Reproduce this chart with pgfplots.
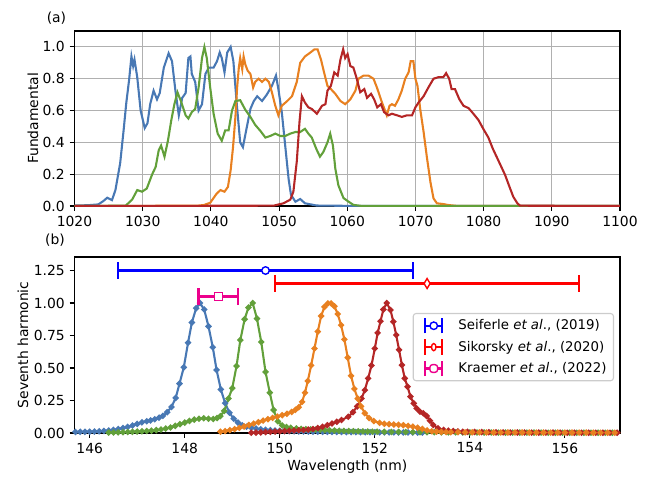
\documentclass[border=0pt]{standalone}
\usepackage{pgfplots}
\pgfplotsset{compat=1.18}
\usepackage{fontspec}
\setmainfont{DejaVu Sans}
\definecolor{cB}{RGB}{72,120,180}
\definecolor{cO}{RGB}{232,128,32}
\definecolor{cG}{RGB}{98,160,58}
\definecolor{cR}{RGB}{180,38,38}
\definecolor{gridc}{RGB}{176,176,176}
\definecolor{legc}{RGB}{204,204,204}
\pgfplotsset{
  myaxis/.style={
    scale only axis, width=392.76pt,
    axis line style={line width=0.8pt, black},
    tick align=outside, tick pos=left,
    major tick length=3.5pt,
    every tick/.style={line width=0.8pt, black},
    /pgf/number format/assume math mode=true,
    /pgf/number format/1000 sep={},
    tick label style={font=\fontsize{10}{12}\selectfont},
    label style={font=\fontsize{10}{12}\selectfont},
    clip=true,
  },
  topline/.style={line width=1.5pt, no marks},
  botline/.style={line width=1.5pt, mark=*, mark size=1.4pt},
  ebar/.style={line width=1.5pt, mark=|, mark size=6pt, mark options={line width=1.5pt}},
}
\begin{document}
\begin{tikzpicture}
\useasboundingbox (0,0) rectangle (468.72pt,343.44pt);
% ---------------- (a) ----------------
\begin{axis}[myaxis, name=topax,
  at={(53.64pt,195.12pt)}, anchor=south west, height=126pt,
  xmin=1020, xmax=1100, ymin=0, ymax=1.1,
  xtick={1020,1030,...,1100},
  ytick={0,0.2,0.4,0.6,0.8,1.0},
  yticklabel style={/pgf/number format/.cd, fixed, fixed zerofill, precision=1},
  grid=major, major grid style={line width=0.8pt, gridc},
  ylabel={Fundamental},
  ylabel style={at={(axis description cs:-0.076,0.5)}, anchor=center},
]
\addplot[topline, cB] coordinates {
(1020,0.003) (1022,0.005) (1023.5,0.010) (1024.2,0.030) (1024.8,0.052) (1025.5,0.037)
(1026.0,0.10) (1026.7,0.27) (1027.2,0.475) (1027.6,0.65) (1028.0,0.79) (1028.35,0.94)
(1028.6,0.88) (1028.8,0.92) (1029.2,0.81) (1029.7,0.60) (1030.3,0.49) (1030.7,0.52)
(1031.1,0.64) (1031.6,0.725) (1032.1,0.67) (1032.5,0.71) (1033.1,0.87) (1033.8,0.96)
(1034.3,0.91) (1034.8,0.725) (1035.3,0.57) (1035.8,0.68) (1036.3,0.71) (1036.7,0.93)
(1037.0,0.94) (1037.2,0.83) (1037.7,0.78) (1038.2,0.60) (1038.7,0.64) (1039.2,0.83)
(1039.7,0.87) (1040.4,0.87) (1040.9,0.91) (1041.3,0.965) (1041.6,0.93) (1042.0,0.84)
(1042.4,0.965) (1042.9,1.0) (1043.3,0.91) (1043.8,0.64) (1044.3,0.40) (1044.7,0.37)
(1045.2,0.48) (1045.8,0.61) (1046.3,0.66) (1046.8,0.69) (1047.5,0.66) (1048.2,0.70)
(1048.95,0.755) (1049.55,0.82) (1049.9,0.735) (1050.4,0.59) (1050.9,0.38) (1051.4,0.17)
(1051.75,0.07) (1052.4,0.027) (1053.1,0.044) (1053.8,0.017) (1055.5,0.003) (1060,0.001) (1100,0)
};
\addplot[topline, cO] coordinates {
(1020,0) (1038.0,0.002) (1038.95,0.006) (1039.9,0.02) (1040.8,0.075) (1041.4,0.10)
(1042.0,0.09) (1042.5,0.12) (1042.9,0.225) (1043.25,0.37) (1043.6,0.56) (1043.85,0.745)
(1044.1,0.87) (1044.3,0.93) (1044.6,0.86) (1044.8,0.94) (1045.05,0.89) (1045.4,0.85)
(1045.8,0.83) (1046.2,0.745) (1046.5,0.78) (1047.0,0.80) (1047.5,0.78) (1048.0,0.80)
(1048.5,0.78) (1048.95,0.715) (1049.45,0.63) (1049.9,0.57) (1050.4,0.63) (1051.2,0.66)
(1051.9,0.69) (1052.6,0.78) (1053.1,0.90) (1053.8,0.94) (1054.6,0.965) (1055.2,0.985)
(1055.65,0.985) (1056.15,0.92) (1056.6,0.84) (1057.1,0.755) (1057.6,0.735) (1058.25,0.705)
(1059.0,0.66) (1059.7,0.64) (1060.45,0.67) (1061.2,0.725) (1061.65,0.80) (1062.4,0.82)
(1063.1,0.82) (1063.85,0.80) (1064.35,0.745) (1065.1,0.65) (1065.8,0.57) (1066.2,0.63)
(1066.55,0.64) (1067.0,0.63) (1067.5,0.67) (1068.0,0.725) (1068.5,0.80) (1069.0,0.84)
(1069.3,0.91) (1069.7,0.91) (1070.0,0.80) (1070.3,0.755) (1070.7,0.61) (1071.2,0.465)
(1071.7,0.30) (1072.2,0.15) (1072.65,0.048) (1073.15,0.017) (1074.1,0.012) (1074.85,0.006)
(1076,0.001) (1100,0)
};
\addplot[topline, cG] coordinates {
(1020,0) (1027.5,0.002) (1028.45,0.04) (1029.2,0.10) (1029.9,0.09) (1030.6,0.11)
(1031.4,0.20) (1031.9,0.245) (1032.35,0.35) (1032.7,0.38) (1033.2,0.31) (1033.7,0.41)
(1034.2,0.54) (1034.65,0.64) (1035.1,0.715) (1035.6,0.66) (1036.3,0.57) (1036.7,0.55)
(1037.2,0.59) (1037.7,0.61) (1038.2,0.745) (1038.7,0.93) (1039.05,1.0) (1039.4,0.93)
(1039.9,0.745) (1040.4,0.58) (1041.0,0.455) (1041.6,0.41) (1042.1,0.475) (1042.6,0.475)
(1043.1,0.60) (1043.6,0.66) (1044.3,0.665) (1045.05,0.605) (1045.8,0.56) (1046.5,0.51)
(1047.3,0.47) (1048.0,0.43) (1048.7,0.44) (1049.45,0.455) (1050.2,0.44) (1050.9,0.44)
(1051.65,0.455) (1052.4,0.465) (1053.1,0.465) (1053.8,0.485) (1054.3,0.455) (1054.8,0.43)
(1055.45,0.36) (1056.0,0.31) (1056.5,0.34) (1057.1,0.40) (1057.5,0.455) (1057.9,0.38)
(1058.25,0.235) (1058.7,0.13) (1059.45,0.05) (1060.2,0.027) (1060.9,0.007) (1062,0.001) (1100,0)
};
\addplot[topline, cR] coordinates {
(1020,0) (1049.2,0.002) (1050.65,0.017) (1051.65,0.04) (1052.1,0.09) (1052.6,0.28)
(1053.0,0.53) (1053.35,0.69) (1053.8,0.65) (1054.3,0.62) (1054.8,0.61) (1055.55,0.58)
(1056.3,0.63) (1056.8,0.64) (1057.1,0.725) (1057.6,0.755) (1058.1,0.84) (1058.6,0.82)
(1059.0,0.92) (1059.4,0.985) (1059.7,0.93) (1060.05,0.955) (1060.45,0.88) (1060.9,0.87)
(1061.4,0.80) (1061.9,0.715) (1062.5,0.735) (1062.9,0.68) (1063.5,0.705) (1063.95,0.67)
(1064.4,0.62) (1064.95,0.64) (1065.4,0.59) (1066.05,0.57) (1066.55,0.58) (1067.3,0.57)
(1068.0,0.56) (1068.75,0.57) (1069.5,0.57) (1070.0,0.62) (1070.45,0.65) (1071.2,0.69)
(1071.9,0.745) (1072.65,0.80) (1073.4,0.81) (1074.1,0.81) (1074.5,0.835) (1074.95,0.80)
(1075.3,0.735) (1075.8,0.735) (1076.45,0.67) (1077.05,0.63) (1077.8,0.615) (1078.5,0.58)
(1079.25,0.54) (1079.95,0.485) (1080.7,0.43) (1081.35,0.36) (1081.9,0.31) (1082.5,0.255)
(1083.15,0.195) (1083.8,0.12) (1084.35,0.058) (1084.95,0.017) (1085.35,0.002) (1100,0)
};
\end{axis}
\node[font=\fontsize{10}{12}\selectfont] at ([xshift=-13pt,yshift=9pt]topax.north west) {(a)};
% ---------------- (b) ----------------
\begin{axis}[myaxis, name=botax,
  at={(53.64pt,31.68pt)}, anchor=south west, height=126.72pt,
  xmin=145.68, xmax=157.16, ymin=0, ymax=1.354,
  xtick={146,148,...,156},
  ytick={0,0.25,0.5,0.75,1.0,1.25},
  yticklabel style={/pgf/number format/.cd, fixed, fixed zerofill, precision=2},
  ylabel={Seventh harmonic},
  ylabel style={at={(axis description cs:-0.0944,0.5)}, anchor=center},
  xlabel={Wavelength (nm)},
  xlabel style={at={(axis description cs:0.5,-0.19)}, anchor=center},
  legend style={at={(0.62,0.682)}, anchor=north west, draw=legc, line width=0.8pt,
    rounded corners=2pt, fill=white, font=\fontsize{9.6}{11.5}\selectfont,
    inner xsep=3pt, inner ysep=2.4pt, row sep=2.6pt,
    nodes={inner sep=2pt}, cells={anchor=west}},
]
\addplot[botline, cB, forget plot] coordinates {
(145.70,0.008) (145.80,0.009) (145.90,0.009) (146.00,0.010) (146.10,0.011) (146.20,0.013)
(146.30,0.016) (146.40,0.019) (146.50,0.024) (146.60,0.030) (146.70,0.038) (146.80,0.047)
(146.90,0.058) (147.00,0.070) (147.10,0.082) (147.20,0.090)
(147.28,0.097) (147.37,0.106) (147.46,0.118) (147.54,0.132) (147.63,0.160) (147.72,0.200)
(147.81,0.270) (147.89,0.380) (147.98,0.505) (148.07,0.695) (148.15,0.850) (148.24,0.960)
(148.32,1.000) (148.41,0.950) (148.50,0.820) (148.59,0.660) (148.67,0.485) (148.76,0.335)
(148.85,0.230) (148.94,0.156) (149.03,0.110) (149.12,0.080) (149.21,0.060) (149.30,0.048)
(149.40,0.040) (149.50,0.034) (149.60,0.029) (149.70,0.025) (149.80,0.022) (149.90,0.019)
(150.00,0.017) (150.10,0.016) (150.20,0.014) (150.30,0.013) (150.40,0.012) (150.50,0.012)
(150.60,0.011) (150.70,0.010) (150.80,0.010) (150.90,0.009) (151.00,0.009) (151.10,0.008)
(151.20,0.008) (151.30,0.008) (151.40,0.007) (151.50,0.007) (151.60,0.007) (151.70,0.006)
(151.80,0.006) (151.90,0.006) (152.00,0.006) (152.10,0.005) (152.20,0.005) (152.30,0.005)
(152.40,0.005) (152.50,0.004) (152.60,0.004) (152.70,0.004) (152.80,0.004) (152.90,0.003)
(153.00,0.003)
};
\addplot[botline, cG, forget plot] coordinates {
(146.40,0.003) (146.50,0.004) (146.60,0.005) (146.70,0.006) (146.80,0.008) (146.90,0.009)
(147.00,0.011) (147.10,0.013) (147.20,0.015) (147.30,0.018) (147.40,0.022) (147.50,0.027)
(147.60,0.034) (147.70,0.042) (147.80,0.055) (147.90,0.068) (148.00,0.080) (148.10,0.093)
(148.20,0.103) (148.30,0.110) (148.40,0.113) (148.50,0.110) (148.60,0.108) (148.68,0.115)
(148.75,0.130) (148.83,0.170) (148.92,0.265) (149.00,0.345) (149.09,0.515) (149.17,0.715)
(149.26,0.875) (149.34,0.965) (149.43,1.000) (149.52,0.880) (149.61,0.700) (149.70,0.470)
(149.79,0.310) (149.87,0.177) (149.96,0.090) (150.05,0.058) (150.14,0.046) (150.23,0.040)
(150.35,0.035) (150.45,0.032) (150.55,0.030) (150.65,0.028) (150.75,0.026) (150.85,0.024)
(150.95,0.022) (151.05,0.020) (151.15,0.019) (151.25,0.017) (151.35,0.016) (151.45,0.015)
(151.55,0.014) (151.65,0.013) (151.75,0.012) (151.85,0.011) (151.95,0.010) (152.05,0.010)
(152.20,0.009) (152.35,0.008) (152.50,0.008) (152.65,0.007) (152.80,0.007) (152.95,0.006)
(153.10,0.006) (153.25,0.006) (153.40,0.005) (153.55,0.005) (153.70,0.005) (153.85,0.004)
(154.00,0.004) (154.15,0.004) (154.30,0.004) (154.45,0.004) (154.60,0.003) (154.75,0.003)
(154.90,0.003) (155.05,0.003) (155.20,0.003) (155.35,0.003) (155.50,0.003) (155.65,0.002)
(155.80,0.002) (155.95,0.002) (156.10,0.002) (156.25,0.002) (156.40,0.002) (156.55,0.002)
(156.70,0.002) (156.85,0.002) (157.00,0.002)
};
\addplot[botline, cR, forget plot] coordinates {
(149.40,0.002) (149.50,0.003) (149.60,0.005) (149.70,0.007) (149.80,0.009) (149.90,0.011)
(150.00,0.013) (150.10,0.015) (150.20,0.017) (150.30,0.019) (150.40,0.021) (150.50,0.023)
(150.60,0.026) (150.70,0.031) (150.80,0.038) (150.90,0.048) (151.00,0.060) (151.10,0.073)
(151.20,0.086) (151.30,0.100) (151.44,0.125)
(151.54,0.160) (151.63,0.205) (151.72,0.265) (151.79,0.330) (151.86,0.420) (151.93,0.520)
(152.00,0.650) (152.06,0.770) (152.12,0.860) (152.18,0.950) (152.25,1.000) (152.33,0.946)
(152.39,0.856) (152.45,0.754) (152.51,0.640) (152.57,0.523) (152.63,0.420) (152.69,0.356)
(152.75,0.280) (152.82,0.228) (152.88,0.190) (152.95,0.164) (153.02,0.152) (153.09,0.131)
(153.16,0.095) (153.23,0.062) (153.33,0.036) (153.45,0.024) (153.55,0.018) (153.65,0.015)
(153.75,0.012) (153.85,0.010) (153.95,0.009) (154.10,0.008) (154.25,0.007) (154.40,0.006)
(154.55,0.005) (154.70,0.005) (154.85,0.004) (155.00,0.004) (155.15,0.004) (155.30,0.003)
(155.45,0.003) (155.60,0.003) (155.75,0.003) (155.90,0.003) (156.05,0.002) (156.20,0.002)
(156.35,0.002) (156.50,0.002) (156.65,0.002) (156.80,0.002) (156.95,0.002) (157.10,0.002)
};
\addplot[botline, cO, forget plot] coordinates {
(148.75,0.010) (148.85,0.015) (148.95,0.022) (149.05,0.030) (149.15,0.040) (149.25,0.050)
(149.35,0.062) (149.45,0.072) (149.55,0.083) (149.65,0.095) (149.75,0.106) (149.85,0.116)
(149.95,0.126) (150.05,0.137) (150.15,0.148) (150.25,0.162) (150.33,0.178) (150.40,0.198)
(150.47,0.240) (150.53,0.310) (150.59,0.400) (150.66,0.520) (150.73,0.650)
(150.80,0.780) (150.87,0.900) (150.94,0.970) (151.01,0.997) (151.08,0.997) (151.15,0.975)
(151.22,0.915) (151.29,0.830) (151.36,0.720) (151.43,0.580) (151.50,0.440) (151.57,0.340)
(151.64,0.265) (151.71,0.205) (151.79,0.152) (151.88,0.115) (151.98,0.092) (152.10,0.078)
(152.20,0.071) (152.30,0.068) (152.40,0.065) (152.50,0.063) (152.60,0.060) (152.70,0.055)
(152.80,0.049) (152.90,0.041) (153.00,0.032) (153.10,0.020) (153.20,0.013) (153.30,0.010)
(153.40,0.008) (153.50,0.007) (153.60,0.006) (153.75,0.006) (153.90,0.005) (154.05,0.005)
(154.20,0.005) (154.35,0.004) (154.50,0.004) (154.65,0.004) (154.80,0.004) (154.95,0.004)
(155.10,0.004) (155.25,0.003) (155.40,0.003) (155.55,0.003) (155.70,0.003) (155.85,0.003)
(156.00,0.003) (156.15,0.003) (156.30,0.003) (156.45,0.003) (156.60,0.002) (156.75,0.002)
(156.90,0.002) (157.05,0.002) (157.20,0.002)
};
% error bars (range lines with caps at the ends)
\addplot[ebar, blue,
  legend image code/.code={
    \draw[blue, line width=1.5pt] (5pt,0)--(17pt,0);
    \draw[blue, line width=1.5pt] (5pt,-5.5pt)--(5pt,5.5pt);
    \draw[blue, line width=1.5pt] (17pt,-5.5pt)--(17pt,5.5pt);
    \draw[blue, line width=1pt, fill=white] (11pt,0) circle (2.7pt);
    \path (0,0) (26pt,0);}
] coordinates {(146.59,1.25) (152.81,1.25)};
\addlegendentry{Seiferle \textit{et al}., (2019)}
\addplot[ebar, red,
  legend image code/.code={
    \draw[red, line width=1.5pt] (5pt,0)--(17pt,0);
    \draw[red, line width=1.5pt] (5pt,-5.5pt)--(5pt,5.5pt);
    \draw[red, line width=1.5pt] (17pt,-5.5pt)--(17pt,5.5pt);
    \draw[red, line width=1pt, fill=white] (11pt,3.6pt)--(13.2pt,0)--(11pt,-3.6pt)--(8.8pt,0)--cycle;
    \path (0,0) (26pt,0);}
] coordinates {(149.90,1.15) (156.30,1.15)};
\addlegendentry{Sikorsky \textit{et al}., (2020)}
\addplot[ebar, magenta,
  legend image code/.code={
    \draw[magenta, line width=1.5pt] (5pt,0)--(17pt,0);
    \draw[magenta, line width=1.5pt] (5pt,-5.5pt)--(5pt,5.5pt);
    \draw[magenta, line width=1.5pt] (17pt,-5.5pt)--(17pt,5.5pt);
    \draw[magenta, line width=1pt, fill=white] (8.2pt,-2.8pt) rectangle (13.8pt,2.8pt);
    \path (0,0) (26pt,0);}
] coordinates {(148.29,1.05) (149.13,1.05)};
\addlegendentry{Kraemer \textit{et al}., (2022)}
% central values
\addplot[forget plot, only marks, mark=*, mark size=2.7pt, mark options={draw=blue, fill=white, line width=1pt}]
  coordinates {(149.70,1.25)};
\addplot[forget plot, only marks, mark=diamond*, mark size=3.6pt, mark options={draw=red, fill=white, line width=1pt, xscale=0.8}]
  coordinates {(153.10,1.15)};
\addplot[forget plot, only marks, mark=square*, mark size=2.8pt, mark options={draw=magenta, fill=white, line width=1pt}]
  coordinates {(148.71,1.05)};
\end{axis}
\node[font=\fontsize{10}{12}\selectfont] at ([xshift=-14pt,yshift=12pt]botax.north west) {(b)};
\end{tikzpicture}
\end{document}
